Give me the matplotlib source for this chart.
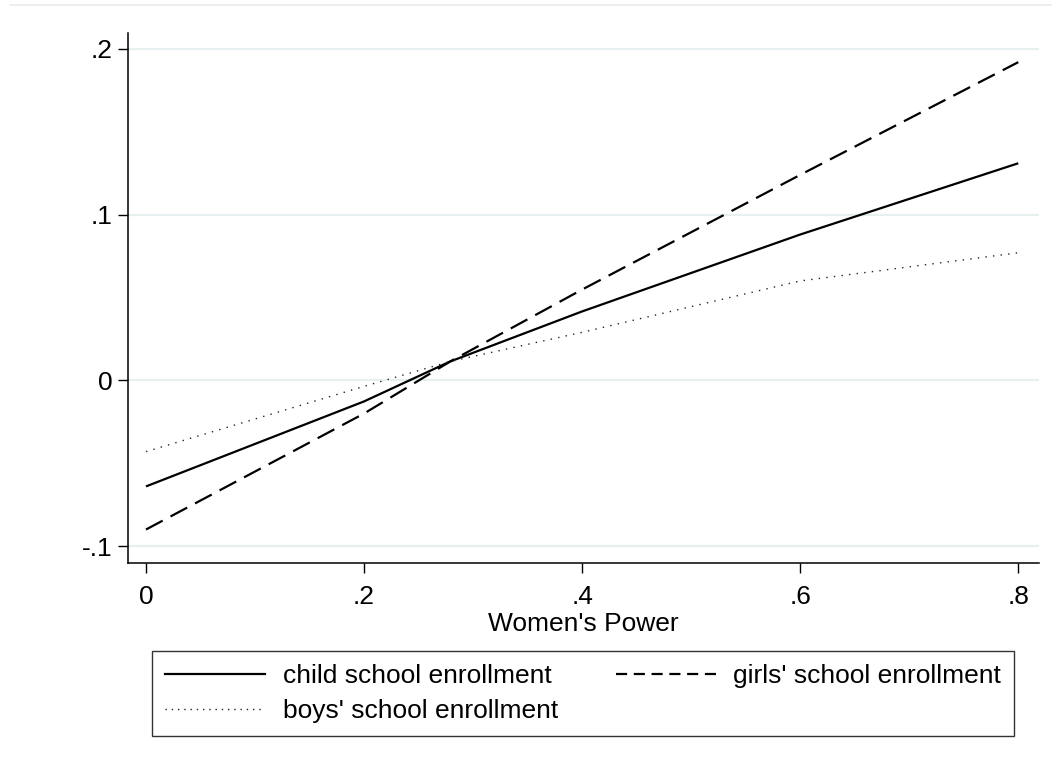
import matplotlib.pyplot as plt
from matplotlib.lines import Line2D

plt.rcParams['font.family'] = ['Liberation Sans', 'DejaVu Sans']

# fitted enrollment effects against women's power
power = [0.0, 0.2, 0.279, 0.4, 0.6, 0.8]
child = [-0.064, -0.0127, 0.0114, 0.0416, 0.088, 0.131]
girls = [-0.090, -0.020, 0.0114, 0.0548, 0.124, 0.192]
boys = [-0.043, -0.0036, 0.0114, 0.0290, 0.0600, 0.077]

xticks = [0, 0.2, 0.4, 0.6, 0.8]
xtick_labels = ["0", ".2", ".4", ".6", ".8"]
yticks = [-0.1, 0.0, 0.1, 0.2]
ytick_labels = ["-.1", "0", ".1", ".2"]

FS = 19
W, H = 1052, 767
fig = plt.figure(figsize=(W / 100, H / 100), dpi=100)
ax = fig.add_axes([128 / W, (H - 563) / H, (1039 - 128) / W, (563 - 33) / H])

grid_col = "#e8eff0"
for y in yticks:
    ax.axhline(y, color=grid_col, lw=1.6, zorder=0)

ax.plot(power, child, color="black", lw=1.6, solid_capstyle="butt",
        label="child school enrollment")
ax.plot(power, girls, color="black", lw=1.6, dashes=(8.5, 4),
        label="girls' school enrollment")
ax.plot(power, boys, color="#222222", lw=1.0, dashes=(1, 4.5),
        label="boys' school enrollment")

ax.set_xlim(-0.0165, 0.819)
ax.set_ylim(-0.1102, 0.2096)
ax.set_xticks(xticks)
ax.set_xticklabels(xtick_labels)
ax.set_yticks(yticks)
ax.set_yticklabels(ytick_labels)
ax.tick_params(direction="out", length=7, width=1, labelsize=FS, pad=4)
ax.tick_params(axis="x", pad=9)
for side in ("top", "right"):
    ax.spines[side].set_visible(False)
for side in ("left", "bottom"):
    ax.spines[side].set_linewidth(1.1)
ax.set_xlabel("Women's Power", fontsize=FS, labelpad=2)

handles = [
    Line2D([], [], color="black", lw=1.6),
    Line2D([], [], color="#222222", lw=1.0, dashes=(1, 3.5)),
    Line2D([], [], color="black", lw=1.6, dashes=(5, 3)),
]
# column-major ordering: child, boys | girls
leg = fig.legend(
    handles,
    ["child school enrollment", "boys' school enrollment", "girls' school enrollment"],
    loc="upper left", mode="expand",
    bbox_to_anchor=(152 / W, (H - 651) / H, (1014 - 152) / W, 0.0),
    ncol=2, fontsize=FS, frameon=True, fancybox=False,
    handlelength=3.8, handletextpad=0.65, columnspacing=1.8,
    borderpad=0.5, labelspacing=0.42, borderaxespad=0,
)
leg.get_frame().set_edgecolor("black")
leg.get_frame().set_linewidth(1.0)

# outer graph region edge
fig.add_artist(Line2D([10 / W, 1.0], [(H - 5) / H] * 2, color="#ebebeb", lw=1.2))

fig.savefig("out.png", dpi=100)
